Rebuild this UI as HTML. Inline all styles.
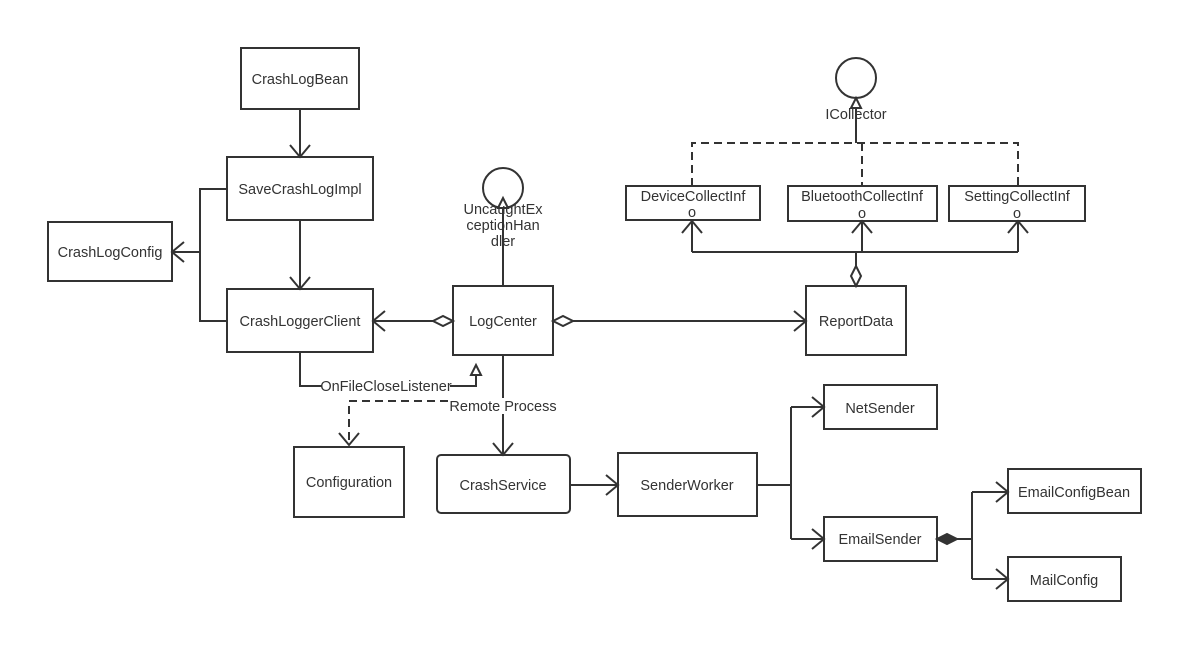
<!DOCTYPE html>
<html><head><style>body{margin:0;background:#fff}svg{display:block}text{font-family:"Liberation Sans",sans-serif;font-size:14.5px;fill:#333}</style></head><body>
<svg width="1204" height="663" viewBox="0 0 1204 663" xmlns="http://www.w3.org/2000/svg">
<g fill="#fff" stroke="#333" stroke-width="2">
<rect x="241" y="48" width="118" height="61"/>
<rect x="227" y="157" width="146" height="63"/>
<rect x="48" y="222" width="124" height="59"/>
<rect x="227" y="289" width="146" height="63"/>
<rect x="453" y="286" width="100" height="69"/>
<circle cx="503" cy="188" r="20"/>
<circle cx="856" cy="78" r="20"/>
<rect x="626" y="186" width="134" height="34"/>
<rect x="788" y="186" width="149" height="35"/>
<rect x="949" y="186" width="136" height="35"/>
<rect x="806" y="286" width="100" height="69"/>
<rect x="294" y="447" width="110" height="70"/>
<rect x="437" y="455" width="133" height="58" rx="4"/>
<rect x="618" y="453" width="139" height="63"/>
<rect x="824" y="385" width="113" height="44"/>
<rect x="824" y="517" width="113" height="44"/>
<rect x="1008" y="469" width="133" height="44"/>
<rect x="1008" y="557" width="113" height="44"/>
</g>
<g fill="none" stroke="#333" stroke-width="2">
<path d="M300 109V157M290 145L300 157L310 145"/>
<path d="M300 220V289M290 277L300 289L310 277"/>
<path d="M227 189H200V321H227M200 252H172M184 242L172 252L184 262"/>
<path d="M433 321H373M385 311L373 321L385 331"/>
<path d="M573 321H806M794 311L806 321L794 331"/>
<path d="M503 286V198"/>
<path d="M300 352V386H476V365"/>
<path d="M503 355V455M493 443L503 455L513 443"/>
<path d="M570 485H618M606 475L618 485L606 495"/>
<path d="M757 485H791M791 407V539M791 407H824M812 397L824 407L812 417M791 539H824M812 529L824 539L812 549"/>
<path d="M957 539H972M972 492V579M972 492H1008M996 482L1008 492L996 502M972 579H1008M996 569L1008 579L996 589"/>
<path d="M856 266V252M692 252H1018M692 252V221M862 252V221M1018 252V221M682 233L692 221L702 233M852 233L862 221L872 233M1008 233L1018 221L1028 233"/>
<path d="M856 143V108"/>
</g>
<g fill="none" stroke="#333" stroke-width="2" stroke-dasharray="8,5">
<path d="M692 186V143H1018V186M862 143V186"/>
<path d="M448 401H349V445"/>
</g>
<path d="M339 433L349 445L359 433" fill="none" stroke="#333" stroke-width="2"/>
<g fill="#fff" stroke="#333" stroke-width="2">
<path d="M433 321L443 316L453 321L443 326Z"/>
<path d="M553 321L563 316L573 321L563 326Z"/>
<path d="M856 286L851 276L856 266L861 276Z"/>
<path d="M498 208L503 198L508 208Z"/>
<path d="M471 375L476 365L481 375Z"/>
<path d="M851 108L856 98L861 108Z"/>
</g>
<path d="M937 539L947 534L957 539L947 544Z" fill="#333" stroke="#333" stroke-width="2"/>
<g text-anchor="middle">
<text x="300" y="84">CrashLogBean</text>
<text x="300" y="194">SaveCrashLogImpl</text>
<text x="110" y="257">CrashLogConfig</text>
<text x="300" y="326">CrashLoggerClient</text>
<text x="503" y="326">LogCenter</text>
<text x="503" y="214">UncaughtEx</text>
<text x="503" y="230">ceptionHan</text>
<text x="503" y="246">dler</text>
<text x="856" y="119">ICollector</text>
<text x="693" y="201">DeviceCollectInf</text><text x="692" y="217">o</text>
<text x="862" y="201">BluetoothCollectInf</text><text x="862" y="218">o</text>
<text x="1017" y="201">SettingCollectInf</text><text x="1017" y="218">o</text>
<text x="856" y="326">ReportData</text>
<text x="349" y="487">Configuration</text>
<text x="503" y="490">CrashService</text>
<text x="687" y="490">SenderWorker</text>
<text x="880" y="413">NetSender</text>
<text x="880" y="544">EmailSender</text>
<text x="1074" y="497">EmailConfigBean</text>
<text x="1064" y="585">MailConfig</text>
</g>
<rect x="322" y="378" width="128" height="16" fill="#fff"/>
<text x="386" y="391" text-anchor="middle">OnFileCloseListener</text>
<rect x="450" y="398" width="106" height="16" fill="#fff"/>
<text x="503" y="411" text-anchor="middle">Remote Process</text>
</svg>
</body></html>
